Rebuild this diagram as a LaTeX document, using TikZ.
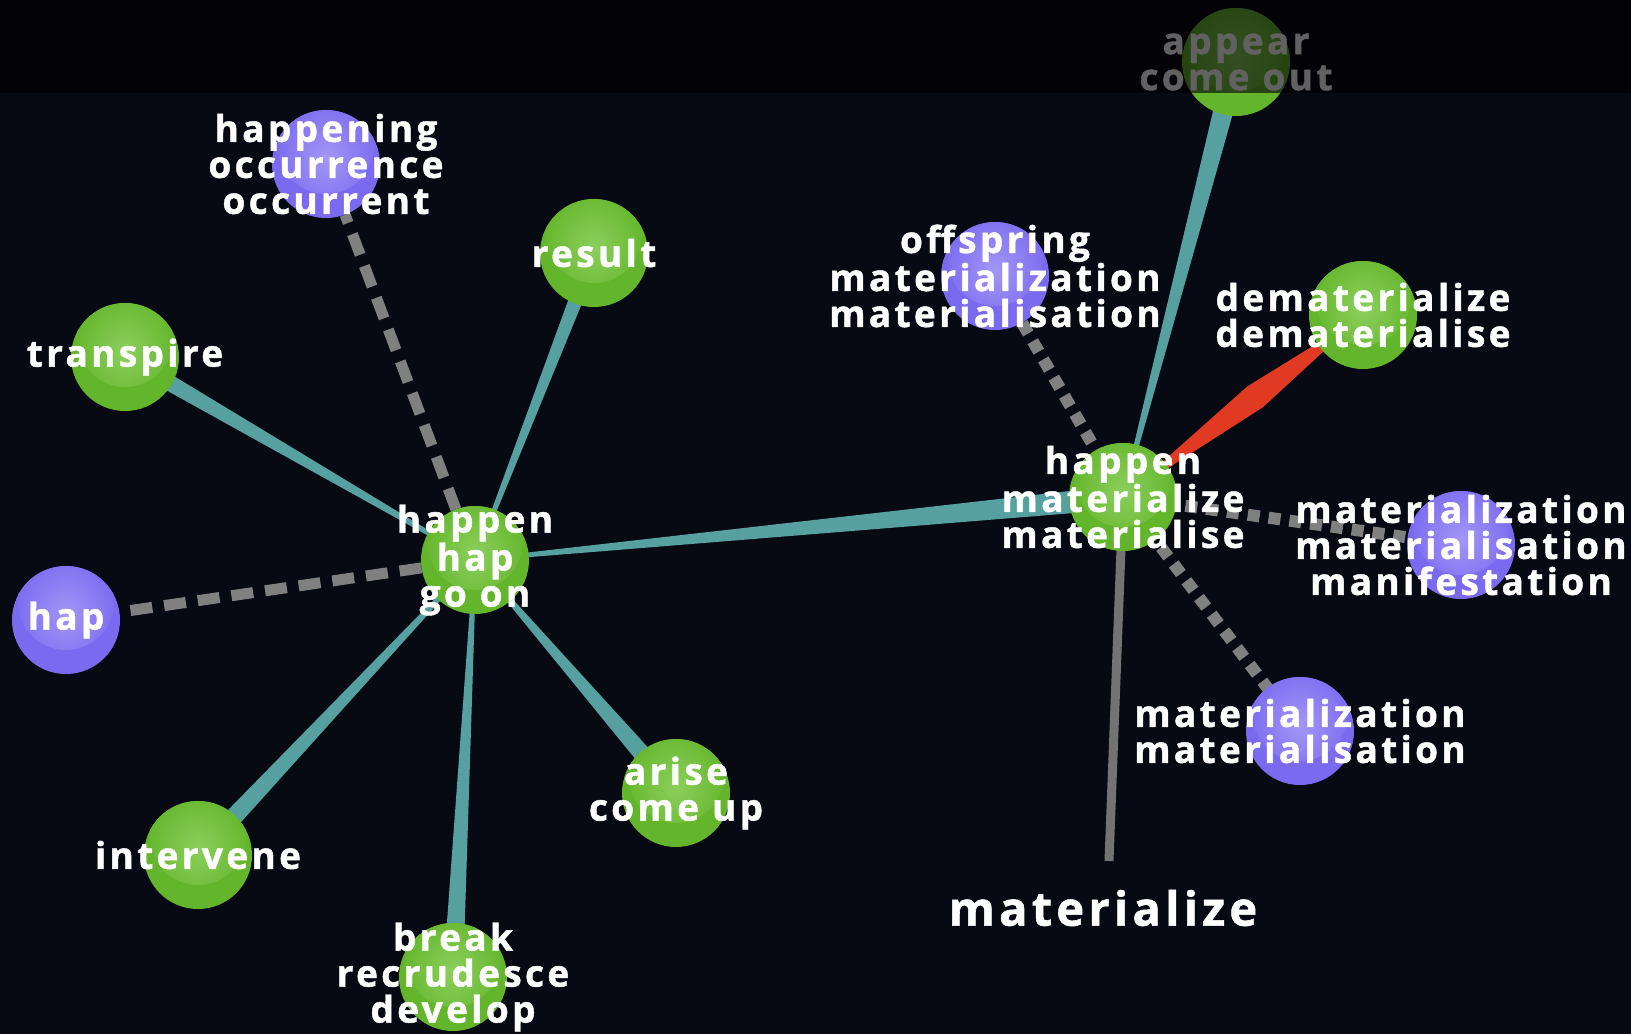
\documentclass[tikz,border=0pt]{standalone}
\usepackage{fontspec}
\newfontfamily\lblfont[LetterSpace=9, FakeBold=1.2]{Open Sans}
\usetikzlibrary{calc}
\definecolor{bgnavy}{HTML}{080A13}
\definecolor{ballgreen}{HTML}{63B52B}
\definecolor{ballgreenhi}{HTML}{8CCF5C}
\definecolor{ballpurple}{HTML}{7A6AF0}
\definecolor{ballpurplehi}{HTML}{A296F6}
\definecolor{tealedge}{HTML}{56A0A0}
\definecolor{grayedge}{HTML}{808080}
\definecolor{rededge}{HTML}{E03A22}
\pgfdeclarelayer{bg}
\pgfdeclarelayer{edges}
\pgfdeclarelayer{fg}
\pgfsetlayers{bg,edges,main,fg}
\tikzstyle{word} = [text=white, align=center, inner sep=0pt, font=\lblfont\bfseries\fontsize{37}{36}\selectfont]
\tikzstyle{greenball} = [circle, minimum size=108pt, inner sep=0pt, fill=ballgreen,
  path picture={\shade[inner color=ballgreenhi, outer color=ballgreen] ([yshift=-36pt]path picture bounding box.north) circle (48pt);}]
\tikzstyle{purpleball} = [circle, minimum size=108pt, inner sep=0pt, fill=ballpurple,
  path picture={\shade[inner color=ballpurplehi, outer color=ballpurple] ([yshift=-36pt]path picture bounding box.north) circle (48pt);}]
\tikzstyle{dashedge} = [draw=grayedge, line width=11pt, dash pattern=on 22pt off 12pt]
\tikzstyle{dotedge} = [draw=grayedge, line width=12pt, dash pattern=on 12pt off 9pt]
\tikzstyle{plainedge} = [draw=grayedge!90!black, line width=9pt]
\newcommand{\tealwedge}[3]{\fill[tealedge] ($(#1.center)!1.5pt!90:(#2.center)$) -- ($(#2.center)!#3!-90:(#1.center)$) -- ($(#2.center)!#3!90:(#1.center)$) -- ($(#1.center)!1.5pt!-90:(#2.center)$) -- cycle;}

\begin{document}
\begin{tikzpicture}[x=1pt, y=-1pt]
  \useasboundingbox (0,0) rectangle (1631,1034);
  \begin{pgfonlayer}{bg}
    \fill[bgnavy] (0,0) rectangle (1631,1034);
  \end{pgfonlayer}

  \node[greenball, label={[word]center:{happen\\hap\\go on}}] (hub) at (475,560) {};
  \node[purpleball, label={[word]center:hap}] (hap) at (66,620) {};
  \node[purpleball, label={[word]center:{happening\\occurrence\\occurrent}}] (happening) at (326,164) {};
  \node[greenball, label={[word]center:result}] (result) at (594,253) {};
  \node[greenball, label={[word]center:transpire}] (transpire) at (125,357) {};
  \node[greenball, label={[word]center:intervene}] (intervene) at (198,855) {};
  \node[greenball, label={[word]center:{break\\recrudesce\\develop}}] (break) at (453,977) {};
  \node[greenball, label={[word]center:{arise\\come up}}] (arise) at (676,793) {};

  \node[greenball, label={[word]center:{happen\\materialize\\materialise}}] (mathub) at (1123,497) {};
  \node[greenball, label={[word]center:{appear\\come out}}] (appear) at (1236,62) {};
  \node[purpleball, label={[word]center:{offspring\\materialization\\materialisation}}] (offspring) at (995,276) {};
  \node[greenball, label={[word]center:{dematerialize\\dematerialise}}] (demat) at (1363,315) {};
  \node[purpleball, label={[word]center:{materialization\\materialisation\\manifestation}}] (manifest) at (1461,545) {};
  \node[purpleball, label={[word]center:{materialization\\materialisation}}] (matn) at (1300,731) {};
  \coordinate (matend) at (1109,861);
  \node[word, font=\lblfont\bfseries\fontsize{47}{48}\selectfont] (matlbl) at (1103,908) {materialize};

  \begin{pgfonlayer}{edges}
    \path[dashedge] (hub) -- (hap);
    \path[dashedge] (hub) -- (happening);
    \tealwedge{hub}{transpire}{9pt}
    \tealwedge{hub}{result}{8pt}
    \tealwedge{hub}{intervene}{10pt}
    \tealwedge{hub}{break}{10pt}
    \tealwedge{hub}{arise}{10pt}
    \tealwedge{hub}{mathub}{12pt}
    \tealwedge{mathub}{appear}{11pt}
    \path[dotedge] (mathub.center) -- (offspring.center);
    \path[dotedge] (mathub.center) -- (manifest.center);
    \path[dotedge] (mathub.center) -- (matn.center);
    \path[plainedge] (mathub.center) -- (matend);
    \fill[rededge] (mathub.center) -- ($(mathub.center)!0.55!(demat.center)!13pt!90:(demat.center)$)
      -- (demat.center) -- ($(mathub.center)!0.55!(demat.center)!13pt!-90:(demat.center)$) -- cycle;
  \end{pgfonlayer}

  \begin{pgfonlayer}{fg}
    \fill[black, opacity=0.62] (0,0) rectangle (1631,93);
  \end{pgfonlayer}
\end{tikzpicture}
\end{document}
